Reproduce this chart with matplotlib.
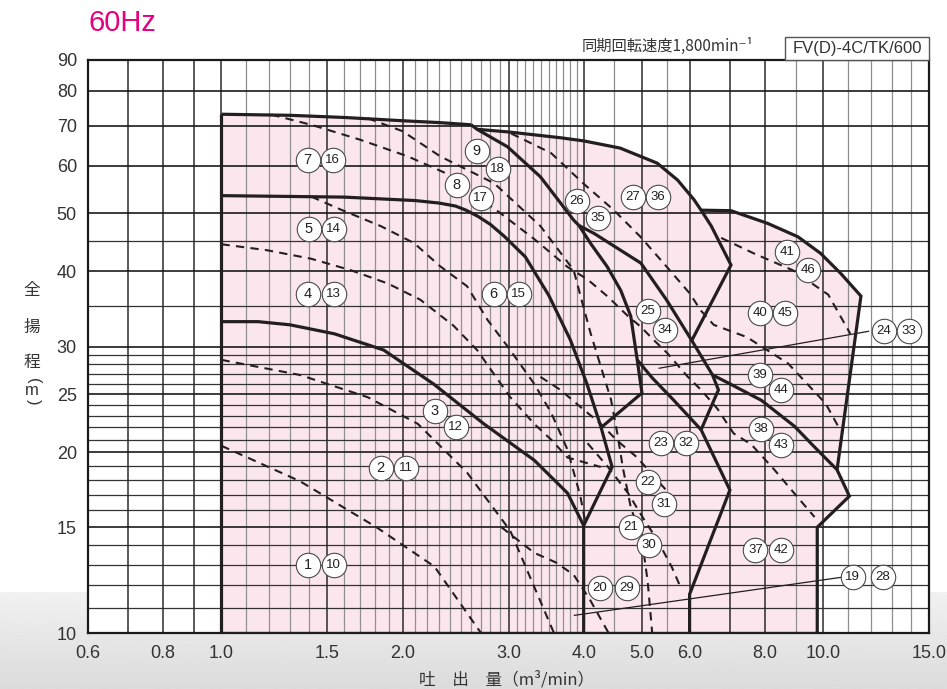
import numpy as np
import matplotlib
matplotlib.use("Agg")
import matplotlib.pyplot as plt
from matplotlib.patches import Rectangle

plt.rcParams['font.family'] = ['Liberation Sans', 'Noto Sans CJK JP', 'DejaVu Sans']

# ---------------- data (Q in m3/min, H in m) ----------------
x_ticks = [0.6, 0.8, 1.0, 1.5, 2.0, 3.0, 4.0, 5.0, 6.0, 8.0, 10.0, 15.0]
x_tick_labels = ["0.6", "0.8", "1.0", "1.5", "2.0", "3.0", "4.0", "5.0", "6.0", "8.0", "10.0", "15.0"]
y_ticks = [10, 15, 20, 25, 30, 40, 50, 60, 70, 80, 90]
y_tick_labels = ["10", "15", "20", "25", "30", "40", "50", "60", "70", "80", "90"]

# solid boundary curves
left_q = [1.0, 1.0]
left_h = [10.0, 73.1]
top_a_q = [1.0, 1.3, 1.6, 2.0, 2.3, 2.6]
top_a_h = [73.1, 72.8, 72.2, 71.3, 70.8, 70.2]
s3_q = [2.6, 2.66, 2.99, 3.39, 3.85, 3.93]
s3_h = [70.2, 69.0, 64.5, 57.5, 48.7, 47.7]
s3b_q = [3.93, 4.11, 4.38, 4.61, 4.79, 4.91, 5.0, 4.28]
s3b_h = [47.7, 44.5, 40.7, 37.2, 33.7, 28.5, 25.1, 22.0]
s3c_q = [3.93, 4.16, 4.98, 5.5, 6.05, 6.55, 6.7, 6.27]
s3c_h = [47.7, 46.3, 41.3, 35.8, 30.7, 26.9, 25.4, 21.8]
top_b_q = [1.0, 1.6, 2.1, 2.3, 2.45, 2.55, 2.67, 2.8, 2.95, 3.2, 3.5, 3.8, 4.05, 4.27, 4.46, 4.0]
top_b_h = [53.5, 53.2, 52.5, 52.0, 51.4, 50.6, 49.4, 47.9, 45.8, 42.3, 36.5, 30.8, 26.0, 22.1, 18.9, 15.1]
top_c_q = [1.0, 1.15, 1.3, 1.54, 1.86, 2.25, 2.73, 3.31, 3.76, 4.0, 4.0]
top_c_h = [33.0, 33.0, 32.6, 31.5, 29.6, 26.0, 22.3, 19.4, 17.1, 15.1, 10.0]
top2_q = [2.66, 3.0, 3.66, 4.0, 4.6, 5.3, 5.73, 6.1, 6.27, 6.52, 7.03, 6.05]
top2_h = [69.0, 68.3, 66.8, 66.0, 64.2, 60.6, 56.8, 52.7, 50.6, 47.6, 41.0, 30.7]
top2_join = 8   # index where group-III top leaves group-II top
l3_q = [4.91, 5.2, 5.65, 6.27, 7.0, 6.0, 6.0]
l3_h = [28.5, 26.6, 24.4, 21.8, 17.3, 11.6, 10.0]
top3_q = [6.27, 7.03, 8.09, 9.08, 9.9, 10.7, 11.56, 10.55]
top3_h = [50.6, 50.5, 48.1, 45.7, 42.9, 39.7, 36.4, 18.7]
l6_q = [6.55, 7.0, 7.9, 8.96, 9.68, 10.55, 11.06, 9.78, 9.78]
l6_h = [26.9, 26.0, 24.4, 22.1, 20.4, 18.7, 16.9, 15.0, 10.0]
l6_join = 5
bottom_q = [1.0, 9.78]
bottom_h = [10.0, 10.0]

# dashed curves
dashed = {
    "d1": ([1.0, 1.35, 1.81, 2.26, 2.7], [20.5, 17.9, 15.0, 12.9, 10.0]),
    "d2": ([1.0, 1.35, 1.75, 2.12, 2.56, 3.02, 3.57], [28.5, 26.9, 24.7, 22.3, 18.5, 14.8, 10.0]),
    "d3": ([2.92, 3.31, 3.6, 3.85, 4.1, 4.4], [15.0, 13.6, 13.1, 12.5, 11.35, 10.0]),
    "d4": ([1.0, 1.19, 1.41, 1.64, 1.89, 2.14, 2.43, 2.66, 3.02, 3.31, 3.53, 3.76, 4.27],
           [44.4, 43.4, 42.0, 40.2, 38.2, 35.9, 32.5, 29.6, 24.7, 22.3, 21.0, 19.6, 18.9]),
    "d5": ([1.41, 1.58, 1.84, 2.09, 2.31, 2.56, 2.77, 2.99, 3.31, 3.53, 3.76, 3.95, 4.02],
           [53.3, 50.7, 47.6, 44.6, 40.8, 37.8, 33.2, 30.0, 26.0, 23.3, 20.2, 16.9, 15.4]),
    "d6": ([3.39, 3.66, 3.95, 4.27, 4.55, 4.91, 5.24, 5.6],
           [26.7, 25.4, 23.8, 22.3, 20.9, 19.6, 18.2, 16.9]),
    "d7": ([4.06, 4.39, 4.74, 5.05, 5.3, 5.6, 5.8], [20.7, 18.9, 17.1, 15.4, 14.3, 12.9, 11.9]),
    "d8": ([1.21, 1.41, 1.70, 2.04, 2.37, 2.91, 3.31, 3.76, 4.06, 4.39, 4.74, 4.97, 5.24, 5.5,
            5.96, 6.27, 6.68, 7.1, 7.6, 8.3, 8.95, 9.68],
           [73.0, 70.2, 66.3, 62.2, 58.2, 50.0, 45.3, 40.7, 38.8, 36.3, 33.7, 32.4, 30.7, 29.3,
            26.7, 25.4, 23.6, 21.5, 20.6, 18.7, 17.1, 15.6]),
    "d9": ([1.75, 2.0, 2.31, 2.84, 3.39, 3.85, 3.97, 4.11, 4.27, 4.44, 4.55, 4.65, 4.79, 5.0,
            5.11, 5.2],
           [72.0, 68.5, 62.2, 56.1, 47.6, 40.2, 35.8, 31.5, 27.8, 24.5, 21.5, 18.8, 16.2, 14.3,
            12.2, 10.0]),
    "d26": ([3.03, 3.53, 4.0, 4.49, 4.97, 5.5, 6.0, 6.27, 6.58, 7.47, 8.75, 10.1, 10.7],
            [67.9, 63.0, 56.0, 50.6, 45.7, 40.7, 36.8, 34.4, 32.6, 31.1, 28.1, 24.1, 21.7]),
    "d41": ([6.77, 7.7, 8.9, 10.2, 11.1], [45.5, 42.8, 40.2, 36.6, 31.5]),
}

# leader lines for labels outside
leader_19 = ([3.86, 10.84], [10.7, 12.4])
leader_24 = ([5.34, 11.9], [27.6, 31.8])

# circled model numbers
label_nums = [1, 10, 2, 11, 3, 12, 4, 13, 5, 14, 6, 15, 7, 16, 8, 17, 9, 18,
              19, 28, 20, 29, 21, 30, 22, 31, 23, 32, 24, 33, 25, 34, 26, 35, 27, 36,
              37, 42, 38, 43, 39, 44, 40, 45, 41, 46]
label_q = [1.390, 1.536, 1.839, 2.024, 2.262, 2.451, 1.390, 1.536, 1.396, 1.536, 2.835, 3.120,
           1.390, 1.530, 2.460, 2.698, 2.657, 2.879,
           11.20, 12.58, 4.26, 4.72, 4.79, 5.13, 5.11, 5.44, 5.37, 5.92, 12.63, 13.90,
           5.11, 5.46, 3.90, 4.22, 4.83, 5.31,
           7.72, 8.50, 7.89, 8.51, 7.86, 8.51, 7.86, 8.65, 8.71, 9.44]
label_h = [12.98, 12.98, 18.83, 18.83, 23.43, 22.03, 36.69, 36.69, 47.08, 47.08, 36.69, 36.69,
           61.35, 61.35, 55.72, 53.02, 63.49, 59.26,
           12.40, 12.40, 11.88, 11.88, 15.01, 14.01, 17.84, 16.40, 20.73, 20.73, 31.84, 31.84,
           34.37, 31.96, 52.41, 49.11, 53.22, 53.22,
           13.74, 13.74, 21.86, 20.57, 26.90, 25.39, 34.11, 34.11, 43.11, 40.22]

# grid lines
v_dark = [0.6, 0.7, 0.8, 0.9, 1.0, 1.5, 2.0, 3.0, 4.0, 5.0, 6.0, 7.0, 8.0, 10.0]
v_light = [1.1, 1.2, 1.3, 1.4, 1.6, 1.7, 1.8, 1.9, 2.1, 2.2, 2.3, 2.4, 2.5, 2.6, 2.7, 2.8, 2.9,
           3.1, 3.2, 3.3, 3.4, 3.5, 3.6, 3.7, 3.8, 3.9, 4.5, 5.5, 9.0, 11.0, 12.0, 13.0, 14.0]
h_major = [15, 20, 25, 30, 40, 50, 60, 70, 80]
h_minor = [11, 12, 13, 14, 16, 17, 18, 19, 21, 22, 23, 24, 26, 27, 28, 29, 35, 45]

# ---------------- figure ----------------
W, H = 947, 689
fig = plt.figure(figsize=(W / 100, H / 100), dpi=100)
fig.patch.set_facecolor("white")

# light grey gradient band at the bottom of the page
bg = fig.add_axes([0, 0, 1, (H - 592) / H], zorder=-10)
bg.imshow(np.linspace(0.945, 0.86, 64).reshape(-1, 1), cmap="gray", vmin=0, vmax=1,
          aspect="auto", extent=[0, 1, 0, 1])
bg.set_axis_off()

ax = fig.add_axes([88 / W, (H - 633) / H, (929 - 88) / W, (633 - 60) / H])
ax.set_xscale("log")
ax.set_yscale("log")
ax.set_xlim(0.6, 15.0)
ax.set_ylim(10, 90)
ax.set_facecolor("white")

ink = "#231f20"

# pink operating range (outer envelope built from the boundary curves)
env_q = (left_q + top_a_q[1:] + top2_q[:top2_join + 1] + top3_q[1:] + l6_q[l6_join + 1:]
         + bottom_q[::-1])
env_h = (left_h + top_a_h[1:] + top2_h[:top2_join + 1] + top3_h[1:] + l6_h[l6_join + 1:]
         + bottom_h[::-1])
ax.fill(env_q, env_h, facecolor="#fce6ee", edgecolor="none", zorder=0)

# grid
for v in v_light:
    ax.axvline(v, color="#8f8f8f", lw=0.9, zorder=1)
for v in v_dark:
    ax.axvline(v, color="#2b2b2b", lw=1.1, zorder=1.2)
for h in h_minor:
    ax.axhline(h, color="#333333", lw=0.9, zorder=1.1)
for h in h_major:
    ax.axhline(h, color="#1a1a1a", lw=1.2, zorder=1.2)

for s in ax.spines.values():
    s.set_color("#1a1a1a")
    s.set_linewidth(1.6)

# solid lines
solid = [(left_q, left_h), (top_a_q, top_a_h), (s3_q, s3_h), (s3b_q, s3b_h), (s3c_q, s3c_h),
         (top_b_q, top_b_h), (top_c_q, top_c_h), (top2_q, top2_h), (l3_q, l3_h),
         (top3_q, top3_h), (l6_q, l6_h), (bottom_q, bottom_h)]
for q, h in solid:
    ax.plot(q, h, color=ink, lw=2.3, solid_joinstyle="miter", solid_capstyle="butt", zorder=4)

for q, h in dashed.values():
    ax.plot(q, h, color=ink, lw=1.5, linestyle=(0, (4, 3)), zorder=3)

for q, h in (leader_19, leader_24):
    ax.plot(q, h, color=ink, lw=0.9, zorder=3)

# circled labels
ax.scatter(label_q, label_h, s=310, facecolor="white", edgecolor="#4a4a4a", linewidth=0.8, zorder=6)
for n, q, h in zip(label_nums, label_q, label_h):
    ax.text(q, h, str(n), ha="center", va="center", fontsize=10.5 if n < 10 else 9.5,
            color=ink, zorder=7, family=["Liberation Sans Narrow", "Liberation Sans"])

# ticks
ax.set_xticks(x_ticks)
ax.set_xticklabels(x_tick_labels, family=["Liberation Sans Narrow", "Liberation Sans"], fontsize=13)
ax.set_yticks(y_ticks)
ax.set_yticklabels(y_tick_labels, fontsize=13)
ax.minorticks_off()
ax.tick_params(axis="both", length=0, pad=8, colors="#333333")
ax.tick_params(axis="x", pad=9)

# texts
fig.text(88 / W, 1 - 23 / H, "60Hz", color="#e4007f", fontsize=21, ha="left", va="center")
fig.text(753 / W, 1 - 46 / H, "同期回転速度1,800min⁻¹", fontsize=11, ha="right", va="center",
         family=["Noto Sans CJK JP", "DejaVu Sans"], color="#333333")
fig.patches.append(Rectangle((785 / W, 1 - 60 / H), (929 - 785) / W, 23 / H,
                             transform=fig.transFigure, facecolor="white",
                             edgecolor="#555555", linewidth=1.0, zorder=5))
fig.text(857 / W, 1 - 48 / H, "FV(D)-4C/TK/600", fontsize=12, ha="center", va="center",
         color="#333333", zorder=6)

ylab_chars = ["全", "揚", "程"]
ylab_y = [290, 327, 363]
for c, yy in zip(ylab_chars, ylab_y):
    fig.text(32 / W, 1 - yy / H, c, fontsize=12, ha="center", va="center",
             family=["Noto Sans CJK JP", "DejaVu Sans"], color="#333333")
fig.text(33 / W, 1 - 381 / H, "(", fontsize=12, rotation=-90, ha="center", va="center", color="#333333")
fig.text(32 / W, 1 - 391 / H, "m", fontsize=12, ha="center", va="center", color="#333333")
fig.text(33 / W, 1 - 402 / H, ")", fontsize=12, rotation=-90, ha="center", va="center", color="#333333")

fig.text(507 / W, 1 - 680 / H, "吐　出　量（m³/min）", fontsize=12, ha="center", va="center",
         family=["Noto Sans CJK JP", "DejaVu Sans"], color="#333333")

fig.savefig("out.png", dpi=100)
